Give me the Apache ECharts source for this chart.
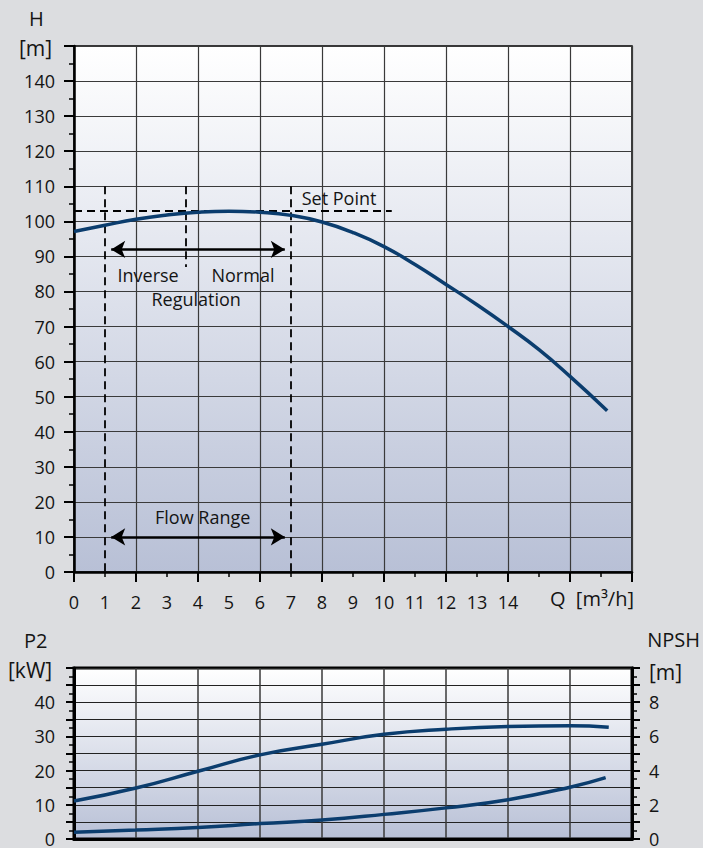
<!DOCTYPE html>
<html><head><meta charset="utf-8">
<script src="https://cdn.jsdelivr.net/npm/echarts@6/dist/echarts.min.js"></script>
<style>html,body{margin:0;padding:0;background:#dcdde0;}#c{width:703px;height:848px;}</style>
</head><body><div id="c"></div>
<script>
// ---- data ----
const flowQ = [0, 1, 2, 3, 4, 5, 6, 7, 8, 9, 10, 11, 12, 13, 14, 15, 16, 17.2];
const headH = [97.1, 98.9, 100.6, 101.8, 102.6, 102.9, 102.6, 101.7, 99.8, 96.8, 92.8, 87.7, 82.0, 76.2, 70.0, 63.4, 55.8, 46.0];
const flowP2 = [0, 2, 4, 6, 8, 10, 12, 14, 16, 17.25];
const powerP2 = [11.1, 14.9, 19.8, 24.6, 27.7, 30.6, 32.1, 32.9, 33.1, 32.7];
const flowNPSH = [0, 2, 4, 6, 8, 10, 12, 14, 16, 17.15];
const npsh = [0.39, 0.52, 0.67, 0.90, 1.11, 1.44, 1.82, 2.30, 3.03, 3.59];
const xTickLabels = [0, 1, 2, 3, 4, 5, 6, 7, 8, 9, 10, 11, 12, 13, 14];
const setPointH = 103;
const setPointEndQ = 10.25;
const flowRange = [1, 7];
const regulationSplitQ = 3.6;
const regulationArrowH = 92;
const flowArrowH = 10;
const guideTopH = 110;
const guideBottomH = 0;
const regulationSplitBottomH = 87;
const annotations = [
  {name: 'Set Point', value: [8.55, 106.6]},
  {name: 'Inverse', value: [2.39, 84.6]},
  {name: 'Normal', value: [5.45, 84.6]},
  {name: 'Regulation', value: [3.94, 77.8]},
  {name: 'Flow Range', value: [4.15, 15.8]}
];

const FONT = 'Open Sans';
const TXT = '#141414';
const CURVE = '#0b3d6e';
const zip = (a, b) => a.map((v, i) => [v, b[i]]);
const grad = {type: 'linear', x: 0, y: 0, x2: 0, y2: 1,
  colorStops: [{offset: 0, color: '#ffffff'}, {offset: 1, color: '#b8c0d6'}]};

const chart = echarts.init(document.getElementById('c'), null, {renderer: 'svg'});
const dash = {color: '#000', width: 1.8, type: [8, 5]};
const arrowOff = 0.2;
chart.setOption({
  backgroundColor: '#dcdde0',
  animation: false,
  textStyle: {fontFamily: FONT},
  grid: [
    {left: 74, top: 46, width: 558, height: 526, show: true, backgroundColor: grad, borderColor: '#000', borderWidth: 1.5},
    {left: 74, top: 668, width: 558, height: 174, show: true, backgroundColor: grad, borderColor: '#000', borderWidth: 3}
  ],
  xAxis: [
    {gridIndex: 0, type: 'value', position: 'bottom', min: 0, max: 18, interval: 2,
      axisLine: {lineStyle: {color: '#000', width: 2.5}},
      axisTick: {length: 10, lineStyle: {color: '#000', width: 2}},
      minorTick: {show: true, splitNumber: 2, length: 5, lineStyle: {color: '#000', width: 1.5}},
      splitLine: {show: true, lineStyle: {color: '#3a3a3a', width: 1.2}},
      axisLabel: {show: false}},
    {gridIndex: 0, type: 'value', position: 'bottom', offset: 0, min: 0, max: 18, interval: 1,
      axisLine: {show: false}, axisTick: {show: false}, splitLine: {show: false},
      axisLabel: {margin: 21, fontSize: 18, color: TXT, fontFamily: FONT,
        formatter: v => xTickLabels.indexOf(v) >= 0 ? String(v) : ''}},
    {gridIndex: 1, type: 'value', position: 'bottom', min: 0, max: 18, interval: 2,
      axisLine: {lineStyle: {color: '#000', width: 3}},
      axisTick: {show: false},
      splitLine: {show: true, lineStyle: {color: '#3a3a3a', width: 1.5}},
      axisLabel: {show: false}}
  ],
  yAxis: [
    {gridIndex: 0, type: 'value', min: 0, max: 150, interval: 10,
      axisLine: {show: true, lineStyle: {color: '#000', width: 2.5}},
      axisTick: {length: 10, lineStyle: {color: '#000', width: 2}},
      minorTick: {show: true, splitNumber: 2, length: 5, lineStyle: {color: '#000', width: 1.5}},
      splitLine: {show: true, lineStyle: {color: '#3a3a3a', width: 1.2}},
      axisLabel: {margin: 19, fontSize: 18, color: TXT, fontFamily: FONT,
        formatter: v => v < 150 ? String(v) : ''}},
    {gridIndex: 1, type: 'value', min: 0, max: 50, interval: 5,
      axisLine: {show: true, lineStyle: {color: '#000', width: 3}},
      axisTick: {length: 8, lineStyle: {color: '#000', width: 2}},
      minorTick: {show: true, splitNumber: 2, length: 5, lineStyle: {color: '#000', width: 1.5}},
      splitLine: {show: true, lineStyle: {color: '#222', width: 1.2}},
      axisLabel: {margin: 19, fontSize: 18, color: TXT, fontFamily: FONT,
        formatter: v => (v % 10 === 0 && v < 50) ? String(v) : ''}},
    {gridIndex: 1, type: 'value', position: 'right', min: 0, max: 10, interval: 1,
      axisLine: {show: true, lineStyle: {color: '#000', width: 3}},
      axisTick: {length: 8, lineStyle: {color: '#000', width: 2}},
      minorTick: {show: true, splitNumber: 2, length: 5, lineStyle: {color: '#000', width: 1.5}},
      splitLine: {show: false},
      axisLabel: {margin: 17, fontSize: 18, color: TXT, fontFamily: FONT,
        formatter: v => (v % 2 === 0 && v < 10) ? String(v) : ''}}
  ],
  series: [
    {type: 'line', name: 'H', xAxisIndex: 0, yAxisIndex: 0, data: zip(flowQ, headH),
      smooth: true, showSymbol: false, lineStyle: {color: CURVE, width: 3.5}, z: 5,
      markLine: {silent: true, symbol: ['none', 'none'], label: {show: false}, animation: false,
        data: [
          [{coord: [0, setPointH], lineStyle: dash}, {coord: [setPointEndQ, setPointH]}],
          [{coord: [flowRange[0], guideTopH], lineStyle: dash}, {coord: [flowRange[0], guideBottomH]}],
          [{coord: [flowRange[1], guideTopH], lineStyle: dash}, {coord: [flowRange[1], guideBottomH]}],
          [{coord: [regulationSplitQ, guideTopH], lineStyle: dash}, {coord: [regulationSplitQ, regulationSplitBottomH]}],
          [{coord: [flowRange[0] + arrowOff, regulationArrowH], symbol: 'arrow', symbolSize: [13, 14], lineStyle: {color: '#000', width: 2.5, type: 'solid'}},
           {coord: [flowRange[1] - arrowOff, regulationArrowH], symbol: 'arrow', symbolSize: [13, 14]}],
          [{coord: [flowRange[0] + arrowOff, flowArrowH], symbol: 'arrow', symbolSize: [13, 14], lineStyle: {color: '#000', width: 2.5, type: 'solid'}},
           {coord: [flowRange[1] - arrowOff, flowArrowH], symbol: 'arrow', symbolSize: [13, 14]}]
        ],
        itemStyle: {color: '#000'}}},
    {type: 'scatter', xAxisIndex: 0, yAxisIndex: 0, data: annotations, symbolSize: 0,
      itemStyle: {color: '#000', opacity: 1}, silent: true,
      label: {show: true, position: 'inside', formatter: '{b}', fontSize: 18, color: TXT,
        textBorderWidth: 0, fontFamily: FONT}},
    {type: 'line', name: 'P2', xAxisIndex: 2, yAxisIndex: 1, data: zip(flowP2, powerP2),
      smooth: true, showSymbol: false, lineStyle: {color: CURVE, width: 3.5}},
    {type: 'line', name: 'NPSH', xAxisIndex: 2, yAxisIndex: 2, data: zip(flowNPSH, npsh),
      smooth: true, showSymbol: false, lineStyle: {color: CURVE, width: 3.5}}
  ],
  graphic: [
    {type: 'text', left: 29, top: 8, style: {text: 'H', fontSize: 20, fill: TXT, fontFamily: FONT}},
    {type: 'text', left: 19, top: 37, style: {text: '[m]', fontSize: 21, fill: TXT, fontFamily: FONT}},
    {type: 'text', right: 69, top: 588, style: {text: 'Q  [m³/h]', fontSize: 20, fill: TXT, fontFamily: FONT}},
    {type: 'text', left: 24, top: 630, style: {text: 'P2', fontSize: 20, fill: TXT, fontFamily: FONT}},
    {type: 'text', left: 8, top: 659, style: {text: '[kW]', fontSize: 21, fill: TXT, fontFamily: FONT}},
    {type: 'text', right: 3, top: 629, style: {text: 'NPSH', fontSize: 20, fill: TXT, fontFamily: FONT}},
    {type: 'text', left: 649, top: 661, style: {text: '[m]', fontSize: 21, fill: TXT, fontFamily: FONT}}
  ]
});
</script></body></html>
